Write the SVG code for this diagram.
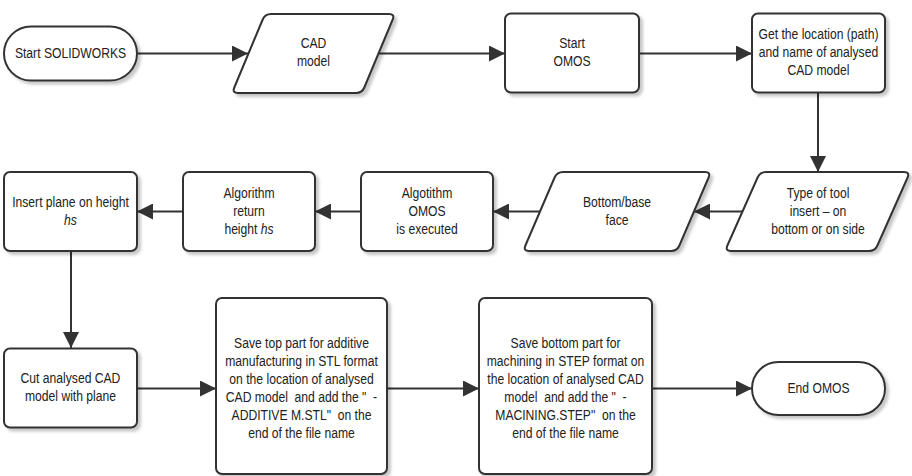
<svg xmlns="http://www.w3.org/2000/svg" width="912" height="476" viewBox="0 0 912 476">
<defs>
<filter id="sh" x="-10%" y="-10%" width="125%" height="125%">
<feDropShadow dx="3" dy="3" stdDeviation="1.8" flood-color="#000" flood-opacity="0.22"/>
</filter>
<marker id="ah" markerUnits="userSpaceOnUse" markerWidth="17" markerHeight="16" refX="16" refY="8" orient="auto">
<path d="M0,0 L16,8 L0,16 Z" fill="#333"/>
</marker>
</defs>
<style>
.n{fill:#fff;stroke:#333;stroke-width:2;filter:url(#sh)}
.t{font-family:"Liberation Sans",Arial,sans-serif;font-size:15px;fill:#222;text-anchor:middle}
.c{fill:none;stroke:#333;stroke-width:2;marker-end:url(#ah)}
</style>
<rect width="912" height="476" fill="#fff"/>
<g id="connectors">
<path class="c" d="M137,53.5 H248"/>
<path class="c" d="M378.5,53.5 H505"/>
<path class="c" d="M639,53.5 H752"/>
<path class="c" d="M818,93 V172"/>
<path class="c" d="M742.5,211.5 H694"/>
<path class="c" d="M540,211.5 H493"/>
<path class="c" d="M361,211.5 H315"/>
<path class="c" d="M183,211.5 H137"/>
<path class="c" d="M71,251 V348"/>
<path class="c" d="M137,388.5 H216"/>
<path class="c" d="M387,388.5 H479"/>
<path class="c" d="M652,388.5 H752"/>
</g>
<g id="start-solidworks">
<rect class="n" x="4" y="26.5" width="133" height="54" rx="27"/>
<text class="t" transform="translate(70.5,0) scale(0.81,1)" x="0" y="58">Start SOLIDWORKS</text>
</g>
<g id="cad-model">
<path class="n" d="M271,14 L389,14 Q395,14 392.7,19.5 L364.3,87.5 Q362,93 356,93 L238,93 Q232,93 234.3,87.5 L262.7,19.5 Q265,14 271,14 Z"/>
<text class="t" transform="translate(313.5,0) scale(0.81,1)"><tspan x="0" y="48.5">CAD</tspan><tspan x="0" y="66.5">model</tspan></text>
</g>
<g id="start-omos">
<rect class="n" x="505" y="13.5" width="134" height="79" rx="6"/>
<text class="t" transform="translate(572,0) scale(0.81,1)"><tspan x="0" y="48.5">Start</tspan><tspan x="0" y="66.5">OMOS</tspan></text>
</g>
<g id="get-location">
<rect class="n" x="752" y="13.5" width="133" height="79" rx="6"/>
<text class="t" transform="translate(818.5,0) scale(0.81,1)"><tspan x="0" y="39.5">Get the location (path)</tspan><tspan x="0" y="57.5">and name of analysed</tspan><tspan x="0" y="75.5">CAD model</tspan></text>
</g>
<g id="type-of-tool">
<path class="n" d="M766,172 L904,172 Q910,172 907.6,177.5 L877.4,245.5 Q875,251 869,251 L731,251 Q725,251 727.4,245.5 L757.6,177.5 Q760,172 766,172 Z"/>
<text class="t" transform="translate(818,0) scale(0.81,1)"><tspan x="0" y="198">Type of tool</tspan><tspan x="0" y="216">insert – on</tspan><tspan x="0" y="234">bottom or on side</tspan></text>
</g>
<g id="bottom-base-face">
<path class="n" d="M563,172 L705,172 Q711,172 708.6,177.5 L679.4,245.5 Q677,251 671,251 L529,251 Q523,251 525.4,245.5 L554.6,177.5 Q557,172 563,172 Z"/>
<text class="t" transform="translate(617,0) scale(0.81,1)"><tspan x="0" y="207">Bottom/base</tspan><tspan x="0" y="225">face</tspan></text>
</g>
<g id="algotithm-omos">
<rect class="n" x="361" y="172" width="132" height="79" rx="6"/>
<text class="t" transform="translate(427,0) scale(0.81,1)"><tspan x="0" y="198">Algotithm</tspan><tspan x="0" y="216">OMOS</tspan><tspan x="0" y="234">is executed</tspan></text>
</g>
<g id="algorithm-return">
<rect class="n" x="183" y="172" width="132" height="79" rx="6"/>
<text class="t" transform="translate(249,0) scale(0.81,1)"><tspan x="0" y="198">Algorithm</tspan><tspan x="0" y="216">return</tspan><tspan x="0" y="234">height <tspan font-style="italic">hs</tspan></tspan></text>
</g>
<g id="insert-plane">
<rect class="n" x="4" y="172" width="133" height="79" rx="6"/>
<text class="t" transform="translate(70.5,0) scale(0.81,1)"><tspan x="0" y="207">Insert plane on height</tspan><tspan x="0" y="225" font-style="italic">hs</tspan></text>
</g>
<g id="cut-model">
<rect class="n" x="4" y="348.5" width="133" height="79" rx="6"/>
<text class="t" transform="translate(70.5,0) scale(0.81,1)"><tspan x="0" y="383">Cut analysed CAD</tspan><tspan x="0" y="401">model with plane</tspan></text>
</g>
<g id="save-top">
<rect class="n" x="216" y="298" width="171" height="176" rx="6"/>
<text class="t" transform="translate(301.5,0) scale(0.81,1)"><tspan x="0" y="348">Save top part for additive</tspan><tspan x="0" y="366">manufacturing in STL format</tspan><tspan x="0" y="384">on the location of analysed</tspan><tspan x="0" y="402" xml:space="preserve">CAD model  and add the "  -</tspan><tspan x="0" y="420" xml:space="preserve">ADDITIVE M.STL"  on the</tspan><tspan x="0" y="438">end of the file name</tspan></text>
</g>
<g id="save-bottom">
<rect class="n" x="479" y="298" width="173" height="176" rx="6"/>
<text class="t" transform="translate(565.5,0) scale(0.81,1)"><tspan x="0" y="348">Save bottom part for</tspan><tspan x="0" y="366">machining in STEP format on</tspan><tspan x="0" y="384">the location of analysed CAD</tspan><tspan x="0" y="402" xml:space="preserve">model  and add the "  -</tspan><tspan x="0" y="420" xml:space="preserve">MACINING.STEP"  on the</tspan><tspan x="0" y="438">end of the file name</tspan></text>
</g>
<g id="end-omos">
<rect class="n" x="752" y="362" width="133" height="53" rx="26.5"/>
<text class="t" transform="translate(818.5,0) scale(0.81,1)" x="0" y="393">End OMOS</text>
</g>
</svg>
